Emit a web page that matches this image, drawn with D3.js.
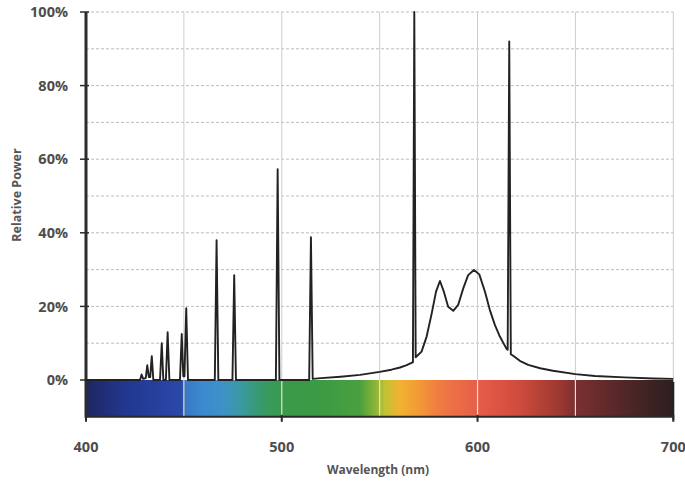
<!DOCTYPE html>
<html>
<head>
<meta charset="utf-8">
<script src="https://cdn.jsdelivr.net/npm/d3@7"></script>
<style>
  html, body { margin: 0; padding: 0; background: #fff; }
  svg { display: block; }
  .tick-label { font-family: "Open Sans", sans-serif; font-weight: 700; font-size: 14.5px; fill: #4d4d4d; }
  .axis-title { font-family: "Open Sans", sans-serif; font-weight: 700; font-size: 12px; fill: #555; }
</style>
</head>
<body>
<svg id="chart" width="685" height="484"></svg>
<script>
// Y-axis ticks (relative power, %) and x-axis ticks (wavelength, nm)
const powerTicks = [0, 20, 40, 60, 80, 100];
const powerGrid = [10, 20, 30, 40, 50, 60, 70, 80, 90, 100];
const wavelengthTicks = [400, 500, 600, 700];
const wavelengthGrid = [450, 500, 550, 600, 650, 700];

// Emission trace: wavelength (nm) and relative power (%)
const traceNm = [
  400, 427.6, 428.4, 429.2, 430.5, 431.3, 432.1, 432.8, 433.6, 434.4,
  437.8, 438.7, 439.5, 440.8, 441.7, 442.6,
  448.0, 448.9, 449.7, 450.3, 451.2, 452.1,
  465.8, 466.7, 467.6,
  474.8, 475.7, 476.6,
  497.0, 497.9, 498.8,
  514.0, 514.9, 515.8,
  520, 530, 540, 550, 556, 560.4, 563.5, 566.8,
  567.0, 567.7, 568.4,
  569.2, 571.4, 574, 576.6, 578.8, 580.8, 582.8, 585.0, 587.6, 590.1, 592.7, 595.2, 598.2, 600.9,
  603.8, 606.3, 608.9, 611.4, 614.9,
  615.4, 616.2, 617.0,
  618.2, 621.6, 625.9, 632, 638.5, 650, 660, 675, 690, 700
];
const tracePower = [
  0, 0, 1.5, 0.3, 0.5, 4, 0.8, 0.8, 6.5, 0,
  0, 10, 0, 0, 13, 0,
  0, 12.5, 1, 1, 19.5, 0,
  0, 38, 0,
  0, 28.5, 0,
  0, 57.3, 0,
  0, 38.8, 0.3,
  0.5, 0.9, 1.4, 2.2, 2.8, 3.4, 4.0, 4.8,
  4.8, 100, 6.2,
  6.6, 7.7, 11.8, 18.1, 24, 26.9, 24, 19.9, 18.8, 20.4, 24.9, 28.5, 29.9, 28.7,
  24, 19, 14.9, 11.8, 8.4,
  8.2, 92, 7.0,
  6.6, 5.2, 4.1, 3.2, 2.5, 1.6, 1.1, 0.7, 0.4, 0.3
];

// Visible-spectrum colour strip under the axis
const spectrumNm = [400, 420, 440, 449, 451, 460, 470, 480, 490, 500, 520, 540, 546, 553, 560, 570, 580, 600, 620, 640, 650, 670, 690, 700];
const spectrumColor = [
  "#1d2660", "#22378f", "#2742a0", "#2b4aa8", "#3a7ac4", "#3c8ad0", "#3d92c8", "#399a9c",
  "#379a68", "#3a9a4a", "#3c9a43", "#4aa040", "#7cb03a", "#c2c232", "#f2b232", "#f29a34",
  "#ef7c42", "#e65e4a", "#d24c3e", "#a23a32", "#7c3030", "#5a2829", "#3a2222", "#2e1f20"
];

const svg = d3.select("#chart");
const x = d3.scaleLinear().domain([400, 700]).range([86, 673.3]);
const y = d3.scaleLinear().domain([-10, 100]).range([416.8, 12]);

// gradient for the colour strip
const grad = svg.append("defs").append("linearGradient")
  .attr("id", "spectrum")
  .attr("gradientUnits", "userSpaceOnUse")
  .attr("x1", x(400)).attr("x2", x(700)).attr("y1", 0).attr("y2", 0);
grad.selectAll("stop")
  .data(spectrumNm)
  .join("stop")
  .attr("offset", d => (d - 400) / 300)
  .attr("stop-color", (d, i) => spectrumColor[i]);

// horizontal dashed grid
svg.append("g")
  .selectAll("line")
  .data(powerGrid)
  .join("line")
  .attr("x1", x(400)).attr("x2", x(700))
  .attr("y1", d => y(d)).attr("y2", d => y(d))
  .attr("stroke", "#bdbdbd")
  .attr("stroke-width", 1)
  .attr("stroke-dasharray", "3,2");

// vertical grid above the strip
svg.append("g")
  .selectAll("line")
  .data(wavelengthGrid)
  .join("line")
  .attr("x1", d => x(d)).attr("x2", d => x(d))
  .attr("y1", y(100)).attr("y2", y(0))
  .attr("stroke", "#cdcdcd")
  .attr("stroke-width", 1);

// colour strip from 0% down to -10%
svg.append("rect")
  .attr("x", x(400)).attr("y", y(0))
  .attr("width", x(700) - x(400)).attr("height", y(-10) - y(0))
  .attr("fill", "url(#spectrum)");

// pale grid lines crossing the strip
svg.append("g")
  .selectAll("line")
  .data(wavelengthGrid.filter(d => d < 700))
  .join("line")
  .attr("x1", d => x(d)).attr("x2", d => x(d))
  .attr("y1", y(0)).attr("y2", y(-10))
  .attr("stroke", "#e4e2d8")
  .attr("stroke-width", 1.2);

// right edge of the strip
svg.append("line")
  .attr("x1", x(700)).attr("x2", x(700))
  .attr("y1", y(0) + 2).attr("y2", y(-10) + 3)
  .attr("stroke", "#222").attr("stroke-width", 2);

// bottom axis line and ticks
svg.append("line")
  .attr("x1", x(400)).attr("x2", x(700))
  .attr("y1", y(-10)).attr("y2", y(-10))
  .attr("stroke", "#2a2a2a").attr("stroke-width", 2);
svg.append("g")
  .selectAll("line")
  .data(wavelengthTicks)
  .join("line")
  .attr("x1", d => x(d)).attr("x2", d => x(d))
  .attr("y1", y(-10) - 2).attr("y2", y(-10) + 5)
  .attr("stroke", "#2a2a2a").attr("stroke-width", 2);

// left axis line and ticks
svg.append("line")
  .attr("x1", x(400)).attr("x2", x(400))
  .attr("y1", y(100)).attr("y2", y(-10) + 1)
  .attr("stroke", "#2c2c2c").attr("stroke-width", 3);
svg.append("g")
  .selectAll("line")
  .data(powerTicks)
  .join("line")
  .attr("x1", x(400) - 6).attr("x2", x(400) + 3)
  .attr("y1", d => y(d)).attr("y2", d => y(d))
  .attr("stroke", "#2c2c2c").attr("stroke-width", 1.5);

// emission trace
const trace = traceNm.map((d, i) => [d, tracePower[i]]);
svg.append("path")
  .datum(trace)
  .attr("fill", "none")
  .attr("stroke", "#222")
  .attr("stroke-width", 1.9)
  .attr("stroke-linejoin", "round")
  .attr("d", d3.line().x(d => x(d[0])).y(d => y(d[1])));

// tick labels
svg.append("g")
  .selectAll("text")
  .data(powerTicks)
  .join("text")
  .attr("class", "tick-label")
  .attr("x", 68)
  .attr("y", d => y(d))
  .attr("dy", "0.36em")
  .attr("text-anchor", "end")
  .text(d => d + "%");

svg.append("g")
  .selectAll("text")
  .data(wavelengthTicks)
  .join("text")
  .attr("class", "tick-label")
  .attr("x", d => x(d))
  .attr("y", 452)
  .attr("text-anchor", "middle")
  .text(d => d);

// axis titles
svg.append("text")
  .attr("class", "axis-title")
  .attr("x", 378).attr("y", 474)
  .attr("text-anchor", "middle")
  .text("Wavelength (nm)");

svg.append("text")
  .attr("class", "axis-title")
  .style("font-size", "12.5px")
  .attr("transform", "translate(21,195) rotate(-90)")
  .attr("text-anchor", "middle")
  .text("Relative Power");
</script>
</body>
</html>
